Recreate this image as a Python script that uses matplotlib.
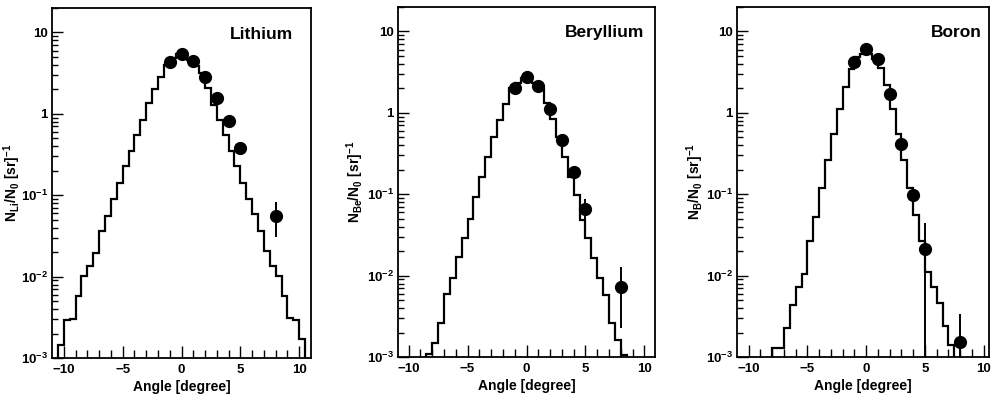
import numpy as np
import matplotlib
matplotlib.use("Agg")
import matplotlib.pyplot as plt
from matplotlib.ticker import FixedLocator, LogLocator, FuncFormatter, NullFormatter

# ---- data ----
elements = ["Lithium", "Beryllium", "Boron"]
ylabels = [r"$N_{Li}/N_{0}\ [sr]^{-1}$", r"$N_{Be}/N_{0}\ [sr]^{-1}$", r"$N_{B}/N_{0}\ [sr]^{-1}$"]

# simulated distributions, 0.5 degree bins
li_edges = (-10.5, 10.5)
li_hist = [1.45e-3, 2.9e-3, 3.0e-3, 5.7e-3, 0.0101, 0.0134, 0.0196, 0.036, 0.055, 0.089,
           0.141, 0.226, 0.346, 0.556, 0.85, 1.36, 2.04, 2.82, 4.0, 4.9, 5.4,
           5.4, 4.6, 3.9, 3.2, 2.09, 1.3, 0.85, 0.556, 0.346, 0.226, 0.141,
           0.089, 0.058, 0.036, 0.0205, 0.0134, 0.0101, 5.7e-3, 3.1e-3, 2.9e-3, 1.7e-3]
be_edges = (-8.5, 8.5)
be_hist = [1.1e-3, 1.5e-3, 2.6e-3, 6.0e-3, 9.3e-3, 0.017, 0.0286, 0.050, 0.093, 0.163,
           0.287, 0.50, 0.82, 1.3, 2.0, 2.35, 2.7,
           2.65, 2.35, 1.95, 1.32, 0.85, 0.50, 0.287, 0.163, 0.098, 0.048,
           0.0286, 0.0163, 9.3e-3, 5.8e-3, 2.6e-3, 1.6e-3, 1.05e-3]
b_edges = (-8.5, 8.0)
b_hist = [5e-4, 1.3e-3, 1.3e-3, 2.3e-3, 4.4e-3, 7.2e-3, 0.0106, 0.027, 0.052, 0.12,
          0.26, 0.55, 1.12, 2.1, 3.5, 4.8, 5.3,
          5.3, 4.6, 3.6, 2.2, 1.12, 0.55, 0.26, 0.12, 0.055, 0.027,
          0.011, 7.3e-3, 4.6e-3, 2.4e-3, 1.4e-3, 5e-4]

# measured points
li_x = [-1, 0, 1, 2, 3, 4, 5, 8]
li_y = [4.4, 5.4, 4.45, 2.85, 1.57, 0.81, 0.38, 0.056]
li_lo = [0.5, 0.6, 0.5, 0.25, 0.12, 0.06, 0.03, 0.025]
li_hi = [0.6, 0.7, 0.5, 0.25, 0.12, 0.06, 0.03, 0.026]

be_x = [-1, 0, 1, 2, 3, 4, 5, 8]
be_y = [2.0, 2.75, 2.15, 1.13, 0.46, 0.19, 0.065, 7.3e-3]
be_lo = [0.2, 0.35, 0.2, 0.1, 0.04, 0.02, 0.019, 5.0e-3]
be_hi = [0.2, 0.45, 0.2, 0.1, 0.04, 0.02, 0.023, 5.5e-3]

b_x = [-1, 0, 1, 2, 3, 4, 5, 8]
b_y = [4.2, 6.1, 4.6, 1.72, 0.42, 0.099, 0.021, 1.55e-3]
b_lo = [0.4, 0.5, 0.4, 0.15, 0.04, 0.012, 0.0206, 1.5e-3]
b_hi = [0.4, 0.6, 0.4, 0.15, 0.04, 0.012, 0.023, 1.8e-3]

# ---- style ----
plt.rcParams.update({
    "font.family": "Liberation Sans",
    "font.weight": "bold",
    "mathtext.fontset": "custom",
    "mathtext.rm": "Liberation Sans:bold",
    "mathtext.bf": "Liberation Sans:bold",
    "mathtext.it": "Liberation Sans:bold",
    "mathtext.default": "bf",
    "axes.linewidth": 1.3,
})

fig = plt.figure(figsize=(9.91, 4.05), dpi=100)

# axes boxes in pixels: left, right, top, bottom
boxes = [(52, 311, 8, 358), (398, 655, 7, 357), (737, 989, 7, 357)]
xlims = [(-11.0, 11.0), (-10.9, 10.9), (-11.0, 10.45)]
title_pos = [(0.81, 0.925), (0.805, 0.926), (0.87, 0.926)]
ylab_x = [-0.112, -0.125, -0.125]

hists = [(li_edges, li_hist), (be_edges, be_hist), (b_edges, b_hist)]
points = [(li_x, li_y, li_lo, li_hi), (be_x, be_y, be_lo, be_hi), (b_x, b_y, b_lo, b_hi)]


def ytick_fmt(v, pos):
    if v >= 10:
        return "10"
    if v >= 1:
        return "1"
    return r"$10^{%d}$" % int(round(np.log10(v)))


W, H = 991.0, 405.0
for i in range(3):
    l, r, t, b = boxes[i]
    ax = fig.add_axes([l / W, 1 - b / H, (r - l) / W, (b - t) / H])

    (lo, hi), vals = hists[i]
    edges = np.linspace(lo, hi, len(vals) + 1)
    ax.stairs(vals, edges, baseline=1e-5, color="black", lw=1.6)

    px, py, plo, phi = points[i]
    ax.errorbar(px, py, yerr=[plo, phi], fmt="o", color="black", ms=8.5,
                elinewidth=1.4, capsize=0)

    ax.set_yscale("log")
    ax.set_ylim(1e-3, 20)
    ax.set_xlim(*xlims[i])

    ax.xaxis.set_major_locator(FixedLocator([-10, -5, 0, 5, 10]))
    ax.xaxis.set_minor_locator(FixedLocator(range(-10, 11)))
    ax.yaxis.set_major_locator(LogLocator(base=10, numticks=10))
    ax.yaxis.set_minor_locator(LogLocator(base=10, subs=np.arange(2, 10), numticks=20))
    ax.yaxis.set_major_formatter(FuncFormatter(ytick_fmt))
    ax.yaxis.set_minor_formatter(NullFormatter())
    ax.tick_params(axis="both", which="both", direction="in", top=False, right=False,
                   labelsize=9.5, width=1.0)
    ax.tick_params(axis="x", which="major", length=9, pad=4)
    ax.tick_params(axis="x", which="minor", length=5.5)
    ax.tick_params(axis="y", which="major", length=8, pad=3)
    ax.tick_params(axis="y", which="minor", length=4)

    ax.set_xlabel("Angle [degree]", fontsize=10, fontweight="bold", labelpad=3)
    ax.set_ylabel(ylabels[i], fontsize=10)
    ax.yaxis.set_label_coords(ylab_x[i], 0.5)

    ax.text(title_pos[i][0], title_pos[i][1], elements[i], transform=ax.transAxes,
            ha="center", va="center", fontsize=12.5, fontweight="bold")

fig.savefig("out.png", dpi=100)
